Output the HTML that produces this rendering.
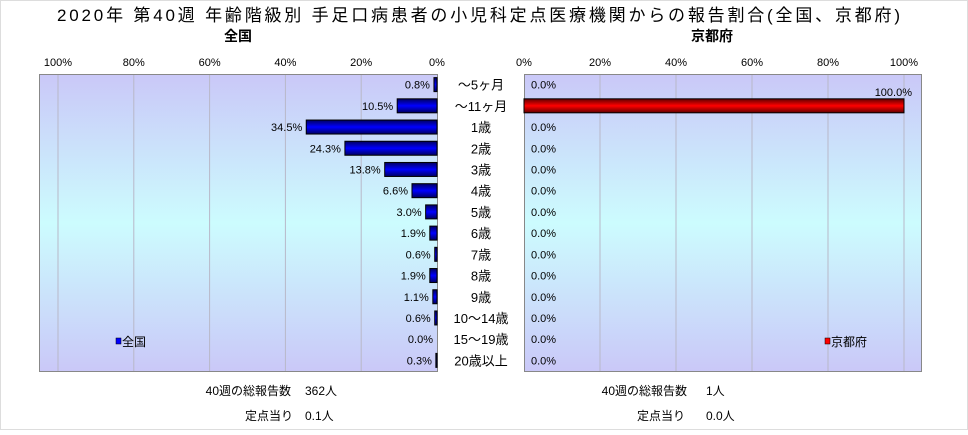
<!DOCTYPE html>
<html><head><meta charset="utf-8"><style>
body{margin:0;background:#fff;}
svg text{font-family:"Liberation Sans","Noto Sans CJK JP",sans-serif;}
</style></head><body>
<svg width="968" height="430" xmlns="http://www.w3.org/2000/svg">
<defs>
<linearGradient id="bg" x1="0" y1="0" x2="0" y2="1">
<stop offset="0" stop-color="#cac8f8"/><stop offset="0.5" stop-color="#ccfcfe"/><stop offset="1" stop-color="#cac8f8"/></linearGradient>
<linearGradient id="blue" x1="0" y1="0" x2="0" y2="1">
<stop offset="0" stop-color="#000060"/><stop offset="0.5" stop-color="#0000ff"/><stop offset="1" stop-color="#000060"/></linearGradient>
<linearGradient id="red" x1="0" y1="0" x2="0" y2="1">
<stop offset="0" stop-color="#600000"/><stop offset="0.5" stop-color="#ff0000"/><stop offset="1" stop-color="#600000"/></linearGradient>
</defs>
<rect x="0.5" y="0.5" width="967" height="429" fill="#fff" stroke="#ddd"/>
<text x="57" y="21" font-size="17" textLength="843" lengthAdjust="spacing">2020年 第40週 年齢階級別 手足口病患者の小児科定点医療機関からの報告割合(全国、京都府)</text>
<text x="238" y="41" font-size="14" font-weight="bold" text-anchor="middle">全国</text>
<text x="712" y="41" font-size="14" font-weight="bold" text-anchor="middle">京都府</text>
<g id="g"></g>
<text x="291" y="395" font-size="12" text-anchor="end">40週の総報告数</text>
<text x="305" y="395" font-size="12">362人</text>
<text x="293" y="420" font-size="12" text-anchor="end">定点当り</text>
<text x="305" y="420" font-size="12">0.1人</text>
<text x="687" y="395" font-size="12" text-anchor="end">40週の総報告数</text>
<text x="706" y="395" font-size="12">1人</text>
<text x="685" y="420" font-size="12" text-anchor="end">定点当り</text>
<text x="706" y="420" font-size="12">0.0人</text>
</svg>
<script>
const categories=["〜5ヶ月","〜11ヶ月","1歳","2歳","3歳","4歳","5歳","6歳","7歳","8歳","9歳","10〜14歳","15〜19歳","20歳以上"];
const nationalValues=[0.8,10.5,34.5,24.3,13.8,6.6,3.0,1.9,0.6,1.9,1.1,0.6,0.0,0.3];
const kyotoValues=[0,100,0,0,0,0,0,0,0,0,0,0,0,0];
const tickValues=[0,20,40,60,80,100];
const NS="http://www.w3.org/2000/svg";
const g=document.getElementById('g');
const top0=74,bot=371,rowH=(bot-top0)/categories.length;
const xL=v=>437-v*3.79, xR=v=>524+v*3.8;
const yC=i=>top0+rowH*(i+0.5);
function mk(t,a,p){const e=document.createElementNS(NS,t);for(const k in a)e.setAttribute(k,a[k]);(p||g).appendChild(e);return e;}
let e=mk('rect',{x:39.5,y:top0+0.5,width:398,height:bot-top0,fill:'url(#bg)',stroke:'#888'});


e=mk('rect',{x:524.5,y:top0+0.5,width:397,height:bot-top0,fill:'url(#bg)',stroke:'#888'});


tickValues.forEach(v=>{
  if(v>0){
  e=mk('line',{x1:xL(v),x2:xL(v),y1:top0+1,y2:bot,stroke:'#b8b8c8'});
  
  
  e=mk('line',{x1:xR(v),x2:xR(v),y1:top0+1,y2:bot,stroke:'#b8b8c8'});
  
  }
  e=mk('text',{x:xL(v),y:66,'font-size':11,'text-anchor':'middle'});e.textContent=v+'%';
  
  
  e=mk('text',{x:xR(v),y:66,'font-size':11,'text-anchor':'middle'});e.textContent=v+'%';
  
  
});
categories.forEach((c,i)=>{
  const y=yC(i);
  e=mk('text',{x:481,y:y+5,'font-size':13,'text-anchor':'middle'});e.textContent=c;
  
  
  const v=nationalValues[i];
  if(v>0){e=mk('rect',{x:xL(v),y:y-7,width:437-xL(v),height:14,fill:'url(#blue)',stroke:'#000','stroke-width':1});
  
  }
  e=mk('text',{x:xL(v)-4,y:y+4,'font-size':11,'text-anchor':'end'});e.textContent=v.toFixed(1)+'%';
  
  
  const k=kyotoValues[i];
  if(k>0){e=mk('rect',{x:524,y:y-7,width:xR(k)-524,height:14,fill:'url(#red)',stroke:'#000','stroke-width':1});
  
  
  e=mk('text',{x:xR(k)+8,y:y-10,'font-size':11,'text-anchor':'end'});e.textContent=k.toFixed(1)+'%';}
  else {e=mk('text',{x:531,y:y+4,'font-size':11});e.textContent=k.toFixed(1)+'%';}
  
  
});
e=mk('rect',{x:116,y:338,width:5,height:6,fill:'#0000ff',stroke:'#000','stroke-width':0.5});


e=mk('text',{x:122,y:346,'font-size':12});e.textContent='全国';


e=mk('rect',{x:825,y:338,width:5,height:6,fill:'#ff0000',stroke:'#000','stroke-width':0.5});


e=mk('text',{x:831,y:346,'font-size':12});e.textContent='京都府';


</script>
</body></html>
